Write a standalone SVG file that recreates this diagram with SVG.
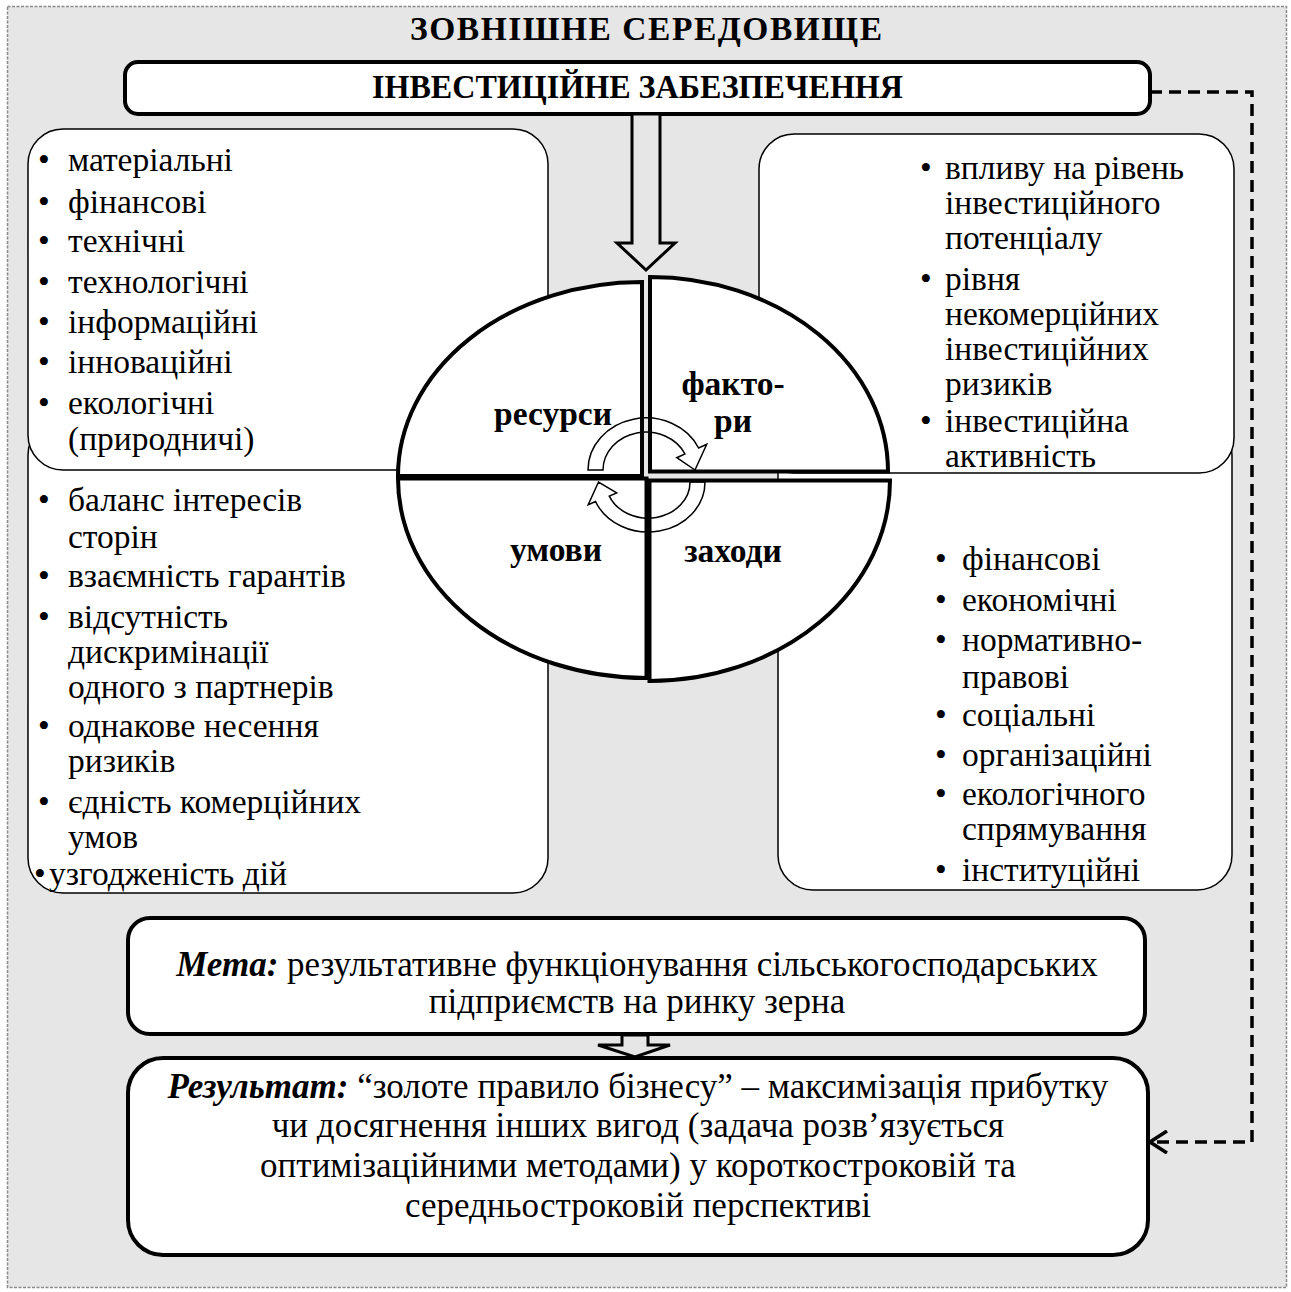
<svg xmlns="http://www.w3.org/2000/svg" width="1291" height="1292" viewBox="0 0 1291 1292">
<defs>
<style>
.t{font-family:"Liberation Serif","Times New Roman",serif;font-size:33.5px;fill:#000}
.big{font-size:35px}
.b{font-weight:bold}
.bi{font-weight:bold;font-style:italic}
.box{fill:#fff;stroke:#000;stroke-width:1.5}
.hbox{fill:#fff;stroke:#000;stroke-width:4}
.q{fill:#fff;stroke:#000;stroke-width:4;stroke-linejoin:miter}
.cyc{fill:none;stroke:#000;stroke-width:1.5;stroke-linejoin:miter}
.blk{fill:#e6e6e6;stroke:#000;stroke-width:3;stroke-linejoin:miter}
</style>
<marker id="chev" markerWidth="24" markerHeight="24" refX="21" refY="12" orient="auto" markerUnits="userSpaceOnUse">
<path d="M4 1 L21 12 L4 23" fill="none" stroke="#000" stroke-width="3.5"/>
</marker>
</defs>
<rect x="7.5" y="6.5" width="1279" height="1281" fill="#e6e6e6" stroke="#8a8a8a" stroke-width="1.5" stroke-dasharray="3 1.5"/>
<text class="t b" x="646" y="40" text-anchor="middle" font-size="30" textLength="472" lengthAdjust="spacing">ЗОВНІШНЕ СЕРЕДОВИЩЕ</text>

<g id="node-investment">
<rect class="hbox" x="125" y="62" width="1025" height="52" rx="13"/>
<text class="t b" x="637.5" y="98" text-anchor="middle" font-size="32" textLength="531" lengthAdjust="spacingAndGlyphs">ІНВЕСТИЦІЙНЕ ЗАБЕЗПЕЧЕННЯ</text>
</g>

<g id="node-conditions-list">
<rect class="box" x="28" y="420" width="520" height="473" rx="35"/>
<g class="t">
<text x="38" y="511">•</text><text x="68" y="511">баланс інтересів</text>
<text x="68" y="548">сторін</text>
<text x="38" y="587">•</text><text x="68" y="587">взаємність гарантів</text>
<text x="38" y="628">•</text><text x="68" y="628">відсутність</text>
<text x="68" y="663">дискримінації</text>
<text x="68" y="698">одного з партнерів</text>
<text x="38" y="737">•</text><text x="68" y="737">однакове несення</text>
<text x="68" y="772">ризиків</text>
<text x="38" y="813">•</text><text x="68" y="813">єдність комерційних</text>
<text x="68" y="848">умов</text>
<text x="34" y="885">•</text><text x="49" y="885">узгодженість дій</text>
</g>
</g>

<g id="node-measures-list">
<rect class="box" x="778" y="420" width="454" height="470" rx="35"/>
<g class="t">
<text x="935" y="570">•</text><text x="962" y="570">фінансові</text>
<text x="935" y="611">•</text><text x="962" y="611">економічні</text>
<text x="935" y="651">•</text><text x="962" y="651">нормативно-</text>
<text x="962" y="688">правові</text>
<text x="935" y="726">•</text><text x="962" y="726">соціальні</text>
<text x="935" y="766">•</text><text x="962" y="766">організаційні</text>
<text x="935" y="805">•</text><text x="962" y="805">екологічного</text>
<text x="962" y="840">спрямування</text>
<text x="935" y="881">•</text><text x="962" y="881">інституційні</text>
</g>
</g>

<g id="node-resources-list">
<rect class="box" x="28" y="129" width="520" height="341" rx="35"/>
<g class="t">
<text x="38" y="171">•</text><text x="68" y="171">матеріальні</text>
<text x="38" y="213">•</text><text x="68" y="213">фінансові</text>
<text x="38" y="252">•</text><text x="68" y="252">технічні</text>
<text x="38" y="293">•</text><text x="68" y="293">технологічні</text>
<text x="38" y="333">•</text><text x="68" y="333">інформаційні</text>
<text x="38" y="373">•</text><text x="68" y="373">інноваційні</text>
<text x="38" y="414">•</text><text x="68" y="414">екологічні</text>
<text x="68" y="450">(природничі)</text>
</g>
</g>

<g id="node-factors-list">
<rect class="box" x="759" y="134" width="475" height="339" rx="35"/>
<g class="t">
<text x="920" y="179">•</text><text x="945" y="179">впливу на рівень</text>
<text x="945" y="214">інвестиційного</text>
<text x="945" y="249">потенціалу</text>
<text x="920" y="290">•</text><text x="945" y="290">рівня</text>
<text x="945" y="325">некомерційних</text>
<text x="945" y="360">інвестиційних</text>
<text x="945" y="395">ризиків</text>
<text x="920" y="432">•</text><text x="945" y="432">інвестиційна</text>
<text x="945" y="467">активність</text>
</g>
</g>

<g id="node-resources">
<path class="q" d="M642 476 H398 A244 194 0 0 1 642 282 Z"/>
<text class="t b" x="553" y="425" text-anchor="middle" font-size="34">ресурси</text>
</g>
<g id="node-factors">
<path class="q" d="M650 471.5 V277 A238 194.5 0 0 1 888 471.5 Z"/>
<text class="t b" x="733" y="395" text-anchor="middle" font-size="34">факто-</text>
<text class="t b" x="733" y="432" text-anchor="middle" font-size="34">ри</text>
</g>
<g id="node-conditions">
<path class="q" d="M646.5 478.5 H398 A248.5 199.5 0 0 0 646.5 678 Z"/>
<text class="t b" x="556" y="561" text-anchor="middle" font-size="34">умови</text>
</g>
<g id="node-measures">
<path class="q" d="M649.5 480.5 H890 A240.5 200.5 0 0 1 649.5 681 Z"/>
<text class="t b" x="733" y="562" text-anchor="middle" font-size="34">заходи</text>
</g>

<g id="cycle-arrows">
<path class="cyc" d="M588 470 A58 52 0 0 1 698.6 448 L706.7 444.2 L695 470 L676.8 457.7 L685 454 A43 38 0 0 0 603 470 Z"/>
<path class="cyc" d="M705 482 A57 50 0 0 1 595.5 501.5 L588.2 504.7 L598.5 482 L616.7 492.9 L609.3 496.1 A42 36 0 0 0 690 482 Z"/>
</g>

<g id="node-goal">
<rect class="hbox" x="128" y="918" width="1017" height="116" rx="22"/>
<text class="t big" x="637" y="976" text-anchor="middle"><tspan class="bi">Мета:</tspan> результативне функціонування сільськогосподарських</text>
<text class="t big" x="637" y="1013" text-anchor="middle">підприємств на ринку зерна</text>
</g>

<g id="node-result">
<rect class="hbox" x="128" y="1058" width="1020" height="197" rx="35"/>
<text class="t big" x="638" y="1098" text-anchor="middle"><tspan class="bi">Результат:</tspan> “золоте правило бізнесу” – максимізація прибутку</text>
<text class="t big" x="638" y="1137" text-anchor="middle">чи досягнення інших вигод (задача розв’язується</text>
<text class="t big" x="638" y="1177" text-anchor="middle">оптимізаційними методами) у короткостроковій та</text>
<text class="t big" x="638" y="1217" text-anchor="middle">середньостроковій перспективі</text>
</g>

<g id="connectors">
<polygon class="blk" points="632,114 660,114 660,243 675,243 646,270 617,243 632,243"/>
<polygon class="blk" stroke-width="3.5" points="622,1035 648,1035 648,1045 670,1045 635,1057 598,1045 622,1045"/>
<path d="M1150 92 H1252 V1142 H1150" fill="none" stroke="#000" stroke-width="3.5" stroke-dasharray="12 7" marker-end="url(#chev)"/>
</g>
</svg>
